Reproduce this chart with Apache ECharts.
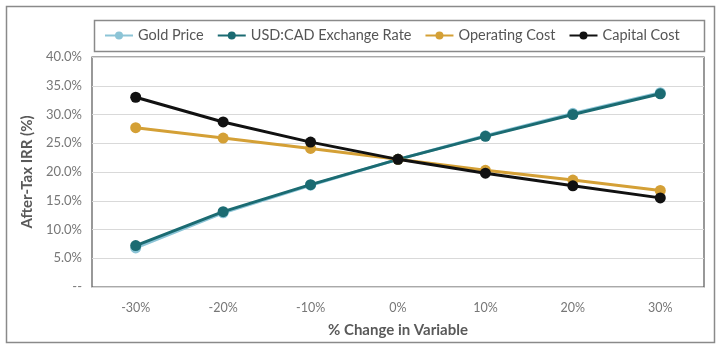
<!DOCTYPE html>
<html>
<head>
<meta charset="utf-8">
<script src="https://cdn.jsdelivr.net/npm/echarts@6/dist/echarts.min.js"></script>
<style>
html,body{margin:0;padding:0;background:#fff;}
#chart{width:724px;height:347px;}
</style>
</head>
<body>
<div id="chart"></div>
<script>
const categories = ['-30%', '-20%', '-10%', '0%', '10%', '20%', '30%'];
const goldPrice = [6.8, 12.9, 17.7, 22.2, 26.3, 30.2, 33.8];
const usdCad = [7.2, 13.1, 17.8, 22.2, 26.2, 30.0, 33.6];
const operatingCost = [27.7, 25.9, 24.1, 22.2, 20.3, 18.6, 16.8];
const capitalCost = [33.0, 28.7, 25.2, 22.2, 19.8, 17.6, 15.5];
const seriesNames = ['Gold Price', 'USD:CAD Exchange Rate', 'Operating Cost', 'Capital Cost'];

const colors = ['#8cc4d6', '#1b6b72', '#d4a036', '#111111'];
const fontFam = 'Lato, "Noto Sans", sans-serif';
const chart = echarts.init(document.getElementById('chart'));

function mk(name, data, color, z) {
  return {
    name: name, type: 'line', data: data, z: z,
    symbol: 'circle', symbolSize: 11,
    lineStyle: { width: 3, color: color },
    itemStyle: { color: color },
    emphasis: { disabled: true }
  };
}

chart.setOption({
  animation: false,
  color: colors,
  graphic: [
    { type: 'rect', left: 4, top: 4, shape: { width: 708, height: 336 },
      style: { fill: 'none', stroke: '#8a8a8a', lineWidth: 1.5 }, silent: true, z: -10 },
    { type: 'rect', left: 92, top: 18, shape: { width: 610, height: 31 },
      style: { fill: 'none', stroke: '#8a8a8a', lineWidth: 1.5 }, silent: true, z: -10 }
  ],
  legend: {
    top: 23, left: 99,
    itemWidth: 28, itemHeight: 10, itemGap: 13,
    textStyle: { fontFamily: fontFam, fontSize: 14.5, color: '#555' },
    data: seriesNames
  },
  grid: {
    left: 92, right: 20, top: 57, bottom: 60,
    show: true, borderColor: '#555', borderWidth: 1.2, backgroundColor: '#fff'
  },
  xAxis: {
    type: 'category', data: categories, boundaryGap: true,
    axisLine: { show: false }, axisTick: { show: false },
    axisLabel: { fontFamily: fontFam, fontSize: 12.5, color: '#777', margin: 14 },
    name: '% Change in Variable', nameLocation: 'middle', nameGap: 36,
    nameTextStyle: { fontFamily: fontFam, fontSize: 15, fontWeight: 'bold', color: '#595959' }
  },
  yAxis: {
    type: 'value', min: 0, max: 40, interval: 5,
    axisLine: { show: false }, axisTick: { show: false },
    splitLine: { lineStyle: { color: '#d9d9d9', width: 1 } },
    axisLabel: { fontFamily: fontFam, fontSize: 13, color: '#777', margin: 10,
      formatter: v => v === 0 ? '--' : v.toFixed(1) + '%' },
    name: 'After-Tax IRR (%)', nameLocation: 'middle', nameGap: 53,
    nameTextStyle: { fontFamily: fontFam, fontSize: 15, fontWeight: 'bold', color: '#595959' }
  },
  series: [
    mk(seriesNames[0], goldPrice, colors[0], 2),
    mk(seriesNames[1], usdCad, colors[1], 3),
    mk(seriesNames[2], operatingCost, colors[2], 4),
    mk(seriesNames[3], capitalCost, colors[3], 5)
  ]
});
</script>
</body>
</html>
